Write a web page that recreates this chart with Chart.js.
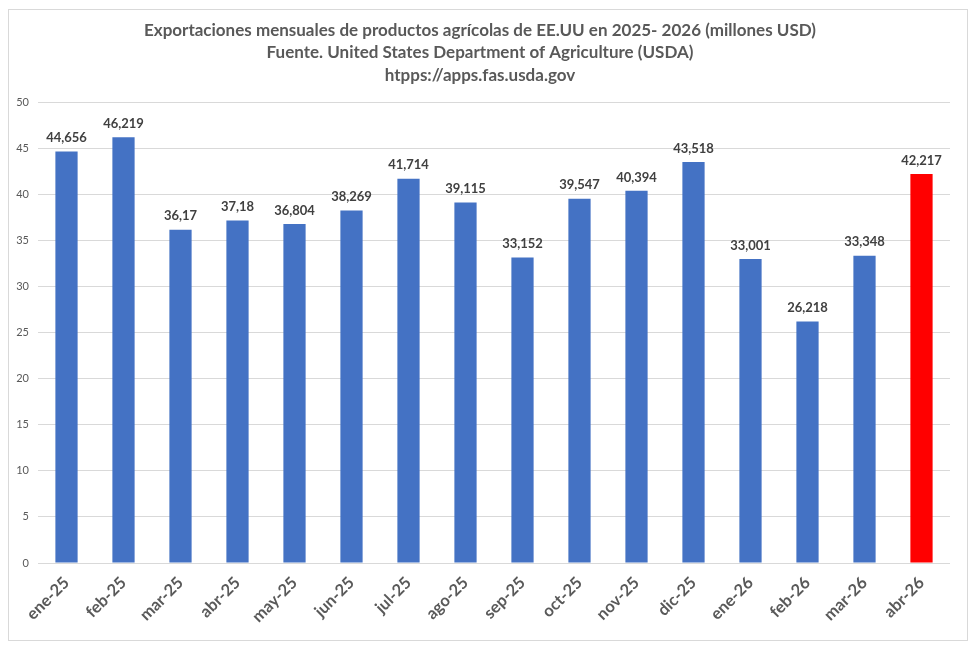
<!DOCTYPE html>
<html>
<head>
<meta charset="utf-8">
<script src="https://cdn.jsdelivr.net/npm/chart.js@4.4.1/dist/chart.umd.min.js"></script>
<style>
  html, body { margin: 0; padding: 0; background: #fff; }
  #wrap { width: 975px; height: 646px; }
</style>
</head>
<body>
<div id="wrap"><canvas id="chart"></canvas></div>
<script>
// datos (millones USD)
const meses = ['ene-25', 'feb-25', 'mar-25', 'abr-25', 'may-25', 'jun-25', 'jul-25', 'ago-25',
  'sep-25', 'oct-25', 'nov-25', 'dic-25', 'ene-26', 'feb-26', 'mar-26', 'abr-26'];
const exportaciones = [44.656, 46.219, 36.17, 37.18, 36.804, 38.269, 41.714, 39.115,
  33.152, 39.547, 40.394, 43.518, 33.001, 26.218, 33.348, 42.217];
const titulo = [
  'Exportaciones mensuales de productos agrícolas de EE.UU en 2025- 2026 (millones USD)',
  'Fuente. United States Department of Agriculture (USDA)',
  'htpps://apps.fas.usda.gov'
];

const colores = exportaciones.map((v, i) => i === exportaciones.length - 1 ? '#ff0000' : '#4472c4');
const gris = '#595959';
const fuente = 'Lato, "Open Sans", sans-serif';

// etiquetas de valor encima de cada barra
const etiquetas = {
  id: 'etiquetas',
  afterDatasetsDraw(chart) {
    const ctx = chart.ctx;
    const meta = chart.getDatasetMeta(0);
    ctx.save();
    ctx.font = 'bold 13px ' + fuente;
    ctx.fillStyle = '#404040';
    ctx.textAlign = 'center';
    ctx.textBaseline = 'bottom';
    meta.data.forEach((bar, i) => {
      const txt = String(exportaciones[i]).replace('.', ',');
      ctx.fillText(txt, bar.x, bar.y - 7);
    });
    ctx.restore();
  }
};

// marco gris alrededor del grafico
const marco = {
  id: 'marco',
  beforeDraw(chart) {
    const ctx = chart.ctx;
    ctx.save();
    ctx.fillStyle = '#fff';
    ctx.fillRect(0, 0, chart.width, chart.height);
    ctx.strokeStyle = '#d9d9d9';
    ctx.lineWidth = 1;
    ctx.strokeRect(8.5, 9.5, 959, 631);
    ctx.restore();
  }
};

new Chart(document.getElementById('chart'), {
  type: 'bar',
  data: {
    labels: meses,
    datasets: [{
      data: exportaciones,
      backgroundColor: colores,
      barPercentage: 0.39,
      categoryPercentage: 1
    }]
  },
  plugins: [marco, etiquetas],
  options: {
    responsive: true,
    maintainAspectRatio: false,
    animation: false,
    layout: { padding: { left: 10, right: 25, top: 8, bottom: 8 } },
    plugins: {
      legend: { display: false },
      tooltip: { enabled: false },
      title: {
        display: true,
        text: titulo,
        color: gris,
        font: { family: fuente, size: 17, weight: 'bold', lineHeight: 1.32 },
        padding: { top: 11, bottom: 16 }
      }
    },
    scales: {
      x: {
        grid: { display: false },
        border: { display: false },
        ticks: {
          color: gris,
          font: { family: fuente, size: 16.5, weight: 'bold' },
          maxRotation: 45,
          minRotation: 45,
          padding: 2
        },
        afterFit(scale) { scale.height = 75; }
      },
      y: {
        min: 0,
        max: 50,
        grid: { color: '#d9d9d9', drawTicks: false },
        border: { display: false },
        ticks: {
          stepSize: 5,
          color: gris,
          font: { family: fuente, size: 11 },
          padding: 9
        },
        afterFit(scale) { scale.width = 28; }
      }
    }
  }
});
</script>
</body>
</html>
